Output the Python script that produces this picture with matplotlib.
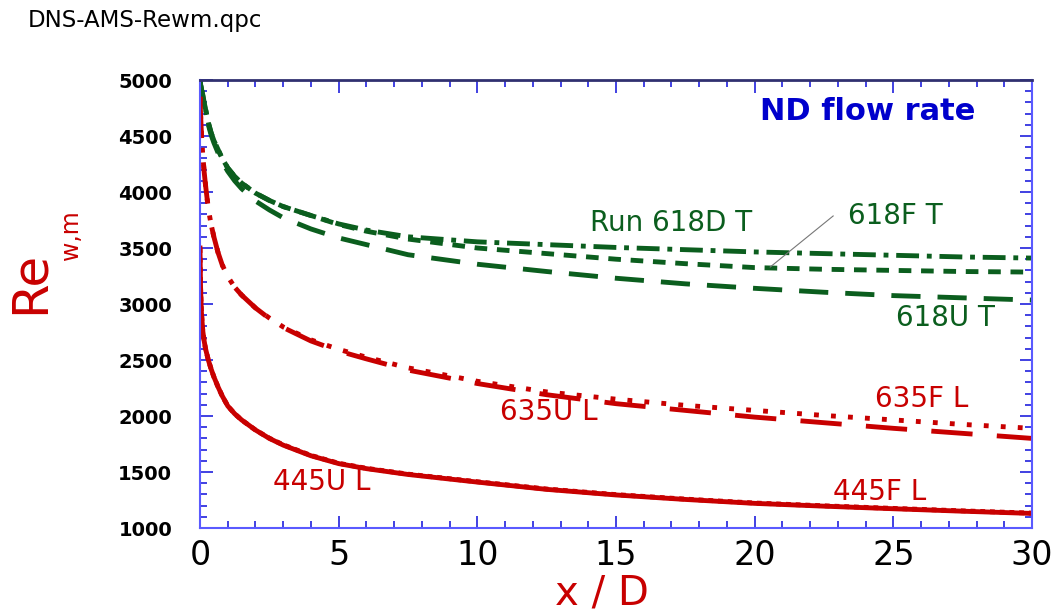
import numpy as np
import matplotlib.pyplot as plt
from matplotlib.ticker import MultipleLocator

# distance x/D (shared grid for all runs)
xd = [0, 0.02, 0.05, 0.1, 0.15, 0.2, 0.3, 0.4, 0.5, 0.65, 0.8, 1, 1.25, 1.5, 2, 2.5,
      3, 4, 5, 6, 7.5, 10, 12.5, 15, 17.5, 20, 22.5, 25, 27.5, 30]

# green runs (T)
re_618D = [5000, 4960, 4920, 4870, 4800, 4740, 4620, 4530, 4460, 4380, 4300, 4215,
           4140, 4080, 3990, 3925, 3870, 3790, 3715, 3660, 3600, 3555, 3530, 3505,
           3485, 3465, 3450, 3435, 3420, 3410]
re_618F = [5000, 4960, 4920, 4870, 4800, 4740, 4620, 4530, 4460, 4380, 4300, 4215,
           4140, 4080, 3990, 3925, 3870, 3790, 3710, 3650, 3580, 3500, 3450, 3400,
           3360, 3325, 3310, 3300, 3290, 3285]
re_618U = [5000, 4960, 4915, 4860, 4790, 4720, 4600, 4510, 4440, 4350, 4270, 4185,
           4100, 4030, 3920, 3840, 3770, 3670, 3590, 3530, 3440, 3355, 3290, 3230,
           3180, 3140, 3105, 3075, 3055, 3035]

# red runs (L)
re_635U = [4850, 4700, 4530, 4330, 4180, 4060, 3850, 3710, 3600, 3460, 3350, 3245,
           3150, 3080, 2965, 2870, 2790, 2670, 2580, 2510, 2410, 2290, 2190, 2110,
           2050, 1990, 1940, 1890, 1845, 1800]
re_635F = [4850, 4700, 4530, 4330, 4180, 4060, 3850, 3710, 3600, 3460, 3350, 3245,
           3150, 3080, 2965, 2875, 2795, 2680, 2595, 2525, 2430, 2310, 2215, 2150,
           2095, 2050, 2005, 1965, 1925, 1890]
re_445U = [3500, 3150, 2930, 2760, 2670, 2600, 2500, 2420, 2350, 2260, 2180, 2090,
           2020, 1965, 1875, 1800, 1740, 1645, 1575, 1530, 1478, 1410, 1345, 1295,
           1255, 1220, 1195, 1172, 1150, 1130]
re_445F = [3500, 3150, 2930, 2760, 2670, 2600, 2500, 2420, 2350, 2260, 2180, 2090,
           2020, 1965, 1875, 1802, 1743, 1648, 1578, 1533, 1481, 1413, 1348, 1298,
           1258, 1223, 1198, 1175, 1153, 1133]

red = '#c80000'
green = '#0b5e1e'
blue = '#0000cc'

plt.rcParams['font.family'] = ['DejaVu Sans']

fig = plt.figure(figsize=(10.62, 6.14), dpi=100)
ax = fig.add_axes([200/1062, 1-528/614, 832/1062, 448/614])

lw = 3.5
ax.plot(xd, re_618D, color=green, lw=lw, dashes=(4.7, 1.6, 1, 1.6))
ax.plot(xd, re_618F, color=green, lw=lw, dashes=(2.6, 2))
ax.plot(xd, re_618U, color=green, lw=lw, dashes=(6, 3.5))
ax.plot(xd, re_635U, color=red, lw=lw, dashes=(8.5, 5))
ax.plot(xd, re_635F, color=red, lw=lw, dashes=(1, 2.5))
ax.plot(xd, re_445U, color=red, lw=lw)
ax.plot(xd, re_445F, color=red, lw=lw, dashes=(1, 1))

ax.set_xlim(0, 30)
ax.set_ylim(1000, 5000)

ax.xaxis.set_major_locator(MultipleLocator(5))
ax.xaxis.set_minor_locator(MultipleLocator(1))
ax.yaxis.set_major_locator(MultipleLocator(500))
ax.yaxis.set_minor_locator(MultipleLocator(100))
ax.tick_params(which='both', direction='in', top=True, right=True, color='#2020dd', width=1.2)
ax.tick_params(which='major', length=9)
ax.tick_params(which='minor', length=5)
ax.tick_params(axis='x', labelsize=24, pad=8)
ax.tick_params(axis='y', labelsize=14, pad=20)
for lab in ax.get_yticklabels():
    lab.set_fontweight('bold')

for side in ['left', 'right', 'bottom']:
    ax.spines[side].set_color('#5a5aff')
    ax.spines[side].set_linewidth(1.5)
ax.spines['top'].set_color('#303070')
ax.spines['top'].set_linewidth(2)

# curve labels
fs = 20
ax.text(14.06, 3723, 'Run 618D T', color=green, fontsize=fs, va='center')
ax.text(23.37, 3786, '618F T', color=green, fontsize=fs, va='center')
ax.text(25.1, 2875, '618U T', color=green, fontsize=fs, va='center')
ax.text(24.34, 2152, '635F L', color=red, fontsize=fs, va='center')
ax.text(10.82, 2036, '635U L', color=red, fontsize=fs, va='center')
ax.text(2.63, 1411, '445U L', color=red, fontsize=fs, va='center')
ax.text(22.83, 1321, '445F L', color=red, fontsize=fs, va='center')
ax.text(20.19, 4723, 'ND flow rate', color=blue, fontsize=22, fontweight='bold', va='center')

# pointer for 618F
ax.plot([20.56, 22.83], [3330, 3786], color='#777777', lw=0.8)

fig.text(28/1062, 1-20/614, 'DNS-AMS-Rewm.qpc', fontsize=16.5, va='center')
fig.text(30/1062, 1-282/614, 'Re', color=red, fontsize=36, rotation=90, ha='center', va='center')
fig.text(71/1062, 1-235/614, 'w,m', color=red, fontsize=17, rotation=90, ha='center', va='center')
fig.text(602/1062, 1-604/614, 'x / D', color=red, fontsize=29, ha='center', va='baseline')

fig.savefig('out.png', dpi=100)
